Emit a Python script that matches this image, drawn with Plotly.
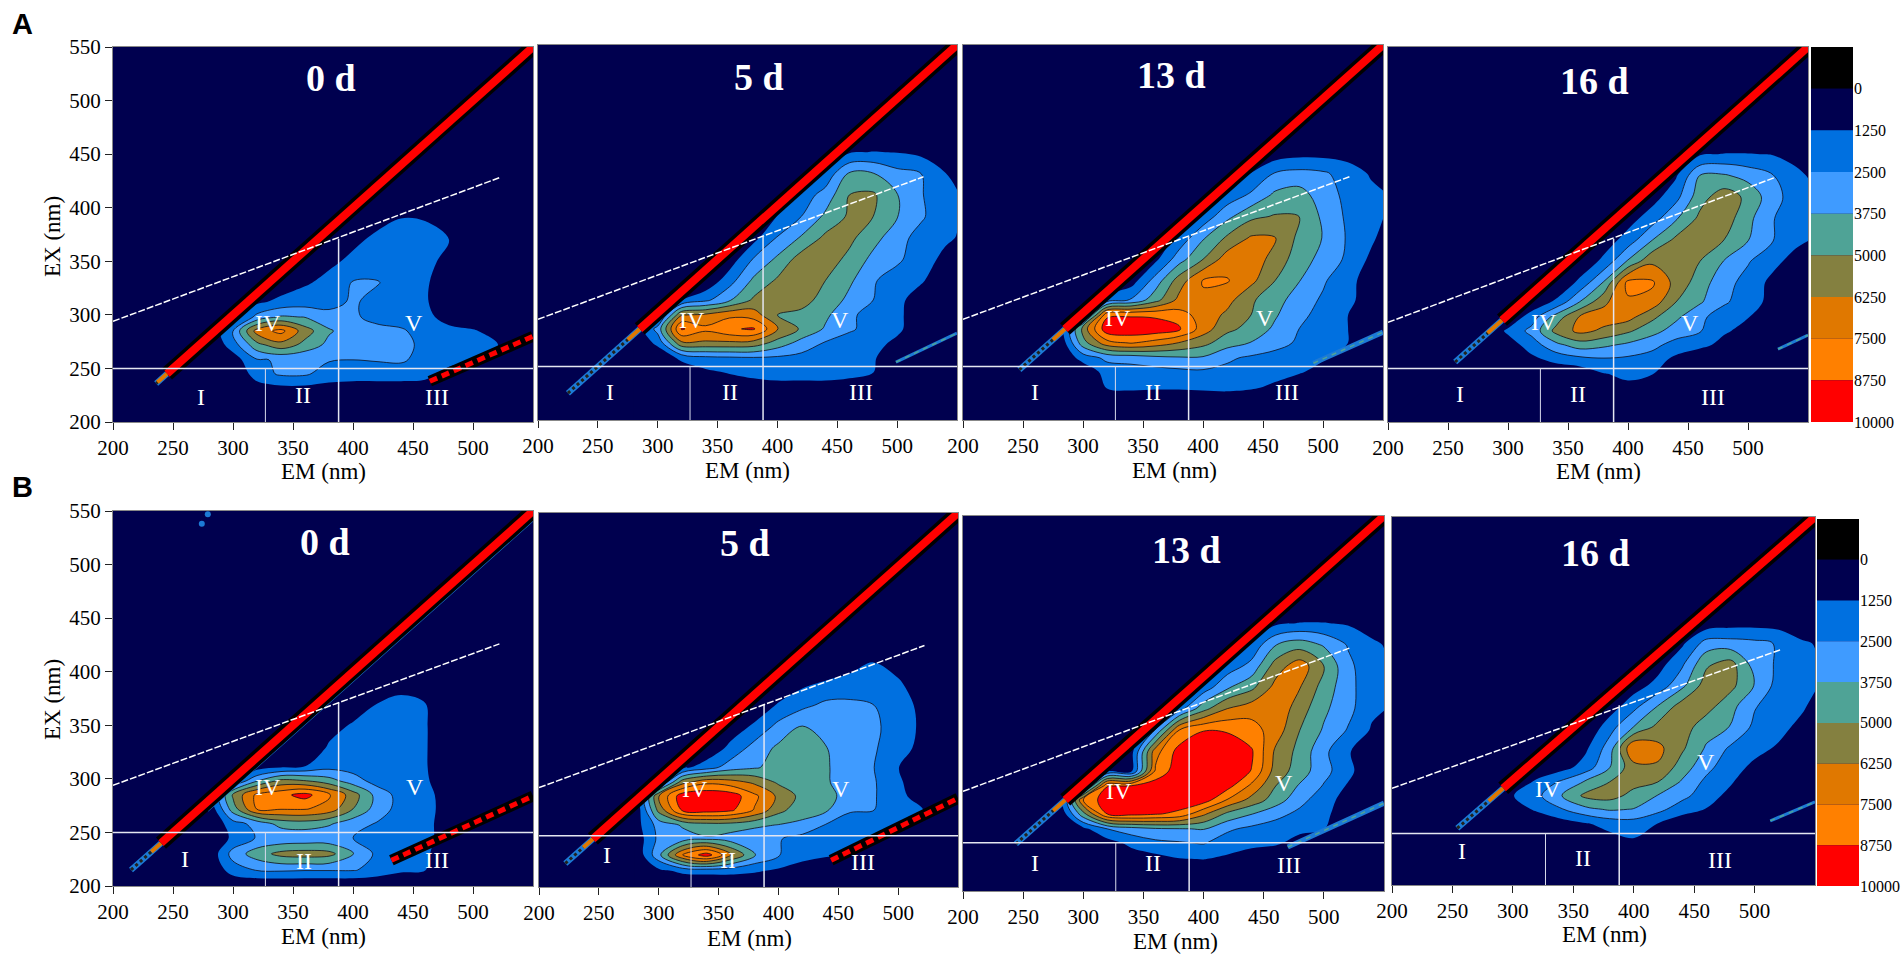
import plotly.graph_objects as go

W, H = 1904, 954

# grid of the contour maps, everything outside it is plain background
EM = [280, 300, 320, 340, 360, 380, 400, 420, 440, 460, 480, 500, 520, 540, 550]
EX = [200, 215, 230, 245, 258, 272, 285, 298, 312, 330, 350, 370, 390, 410, 430, 450, 465]
Z0 = [0] * 15

# fluorescence intensity in thousands, one row per EX value
z_a0 = [
    Z0, Z0,
    [0, 0, .5, .7, .7, .7, .6, .6, .6, .5, 0, 0, 0, 0, 0],
    [0, 0, 1.9, 2.7, 2.7, 1.9, 1.8, 1.8, 1.8, 1.7, .8, 0, 0, 0, 0],
    [0, .6, 2.4, 2.6, 2.6, 2.6, 2.5, 2.6, 2.7, 2.0, 1.7, 1.4, .3, 0, 0],
    [0, 1.9, 4.6, 5.8, 4.6, 3.4, 3.0, 3.0, 3.0, 2.1, 1.9, 1.7, 1.3, .2, 0],
    [0, 2.6, 6.8, 7.9, 5.6, 3.9, 3.1, 2.9, 2.7, 1.9, 1.5, 1.4, .7, 0, 0],
    [0, .5, 2.9, 3.9, 3.7, 3.0, 2.7, 2.1, 1.8, 1.5, .9, .2, 0, 0, 0],
    [0, 0, 1.0, 1.6, 1.9, 2.0, 2.7, 2.0, 1.7, 1.4, .4, 0, 0, 0, 0],
    [0, 0, 0, .5, 1.1, 1.6, 2.6, 2.6, 1.8, 1.4, .6, 0, 0, 0, 0],
    [0, 0, 0, 0, .2, 1.0, 1.5, 1.7, 1.7, 1.6, .9, 0, 0, 0, 0],
    [0, 0, 0, 0, 0, .3, 1.0, 1.5, 1.7, 1.6, 1.25, 0, 0, 0, 0],
    [0, 0, 0, 0, 0, 0, .2, .9, 1.25, 1.2, .3, 0, 0, 0, 0],
    Z0, Z0, Z0, Z0,
]
z_a5 = [
    Z0, Z0,
    [0, 0, 0, 0, .3, .6, .8, .8, .8, .6, .2, 0, 0, 0, 0],
    [0, 0, .3, 1.0, 1.4, 1.7, 1.8, 1.8, 1.8, 1.7, 1.3, 0, 0, 0, 0],
    [0, .2, 1.6, 2.2, 2.3, 2.4, 2.3, 2.1, 2.0, 1.8, 1.4, .3, 0, 0, 0],
    [0, 1.6, 6.0, 6.0, 6.0, 5.8, 4.5, 3.3, 2.4, 1.9, 1.8, .9, .2, 0, 0],
    [0, 3.0, 8.9, 7.8, 8.6, 8.9, 6.4, 4.8, 3.6, 2.7, 2.0, 1.6, .2, 0, 0],
    [0, .5, 6.2, 6.5, 7.2, 6.9, 5.0, 4.8, 4.0, 2.8, 1.9, 1.5, .6, 0, 0],
    [0, 0, 1.2, 2.2, 3.6, 5.2, 5.4, 5.3, 4.7, 3.4, 2.5, 1.6, .6, 0, 0],
    [0, 0, 0, .2, 2.0, 4.0, 5.2, 5.9, 5.0, 4.0, 2.6, 2.0, 1.4, .4, 0],
    [0, 0, 0, 0, .5, 2.6, 4.0, 5.6, 5.6, 4.7, 3.4, 2.7, 1.9, .9, .5],
    [0, 0, 0, 0, 0, .8, 2.6, 3.9, 5.3, 5.3, 4.2, 3.0, 2.0, 1.5, 1.2],
    [0, 0, 0, 0, 0, 0, 1.3, 2.5, 4.0, 5.2, 5.0, 3.8, 2.7, 1.6, 1.4],
    [0, 0, 0, 0, 0, 0, 0, 1.8, 3.0, 5.0, 5.2, 3.8, 2.6, 1.6, 1.4],
    [0, 0, 0, 0, 0, 0, 0, 0, 1.6, 3.9, 3.8, 2.9, 2.5, 1.3, .8],
    [0, 0, 0, 0, 0, 0, 0, 0, 0, 1.1, 1.3, 1.2, .9, .2, 0],
    Z0,
]
z_a13 = [
    Z0, Z0,
    [0, 0, 1.3, 1.5, 1.4, 1.4, 1.5, 1.6, 1.4, 1.0, .3, 0, 0, 0, 0],
    [0, .2, 1.8, 1.9, 2.0, 2.2, 2.3, 2.2, 1.9, 1.7, 1.4, .8, .1, 0, 0],
    [0, 1.8, 2.8, 3.0, 3.4, 3.6, 3.6, 2.7, 2.3, 2.0, 1.7, 1.4, .7, 0, 0],
    [0, 4.5, 7.0, 7.6, 7.0, 6.2, 5.4, 4.3, 3.7, 3.0, 2.3, 1.8, 1.3, .3, 0],
    [0, 5.5, 9.6, 9.7, 9.6, 9.0, 6.9, 5.3, 4.6, 3.5, 2.5, 1.9, 1.3, .2, 0],
    [0, .8, 8.5, 8.6, 8.5, 8.0, 7.0, 6.0, 5.0, 3.9, 2.8, 2.1, 1.3, .2, 0],
    [0, 0, 1.8, 2.6, 4.5, 6.6, 7.3, 6.7, 5.2, 4.2, 3.2, 2.3, 1.5, .8, .5],
    [0, 0, 0, .6, 3.0, 5.6, 7.6, 7.6, 6.6, 5.0, 3.8, 2.7, 1.5, .9, .5],
    [0, 0, 0, 0, .9, 3.2, 5.0, 6.9, 7.1, 5.7, 4.4, 3.3, 2.3, 1.0, .5],
    [0, 0, 0, 0, 0, 1.6, 3.6, 5.2, 6.4, 6.3, 4.7, 3.7, 2.4, 1.5, .9],
    [0, 0, 0, 0, 0, 0, 1.7, 3.4, 4.7, 5.1, 5.0, 3.5, 2.3, 1.6, 1.3],
    [0, 0, 0, 0, 0, 0, 0, 1.7, 2.7, 4.0, 4.3, 3.1, 2.2, 1.6, 1.4],
    [0, 0, 0, 0, 0, 0, 0, 0, 1.3, 2.6, 2.9, 2.7, 2.0, 1.1, .7],
    [0, 0, 0, 0, 0, 0, 0, 0, 0, .4, .7, .7, .6, 0, 0],
    Z0,
]
z_a16 = [
    Z0, Z0,
    [0, 0, 0, 0, 0, .5, .9, .6, 0, 0, 0, 0, 0, 0, 0],
    [0, 0, 0, .2, .4, 1.2, 1.5, 1.3, .6, 0, 0, 0, 0, 0, 0],
    [0, 0, .9, 1.6, 2.0, 2.3, 2.2, 1.9, .9, .2, 0, 0, 0, 0, 0],
    [0, .6, 1.9, 3.4, 4.4, 4.0, 3.5, 2.9, 2.0, 1.6, .9, .1, 0, 0, 0],
    [0, 1.5, 2.9, 5.4, 6.6, 6.0, 5.2, 4.2, 3.2, 2.6, 1.4, .9, 0, 0, 0],
    [0, .2, 1.9, 4.3, 6.4, 6.8, 6.7, 5.3, 4.0, 2.8, 1.8, 1.3, .3, 0, 0],
    [0, 0, .3, 1.5, 3.8, 6.0, 7.3, 7.0, 5.0, 3.9, 2.7, 1.8, .9, 0, 0],
    [0, 0, 0, 0, 1.6, 3.9, 7.9, 7.7, 5.8, 4.4, 2.9, 2.1, .9, 0, 0],
    [0, 0, 0, 0, .2, 1.6, 3.9, 6.0, 5.7, 5.0, 3.7, 2.6, 1.7, .7, .3],
    [0, 0, 0, 0, 0, .5, 1.8, 3.7, 5.3, 5.5, 5.0, 3.8, 2.6, 1.6, 1.3],
    [0, 0, 0, 0, 0, 0, .7, 1.9, 3.6, 5.3, 5.7, 4.1, 2.6, 1.7, 1.5],
    [0, 0, 0, 0, 0, 0, 0, .7, 2.1, 4.5, 5.7, 4.7, 3.0, 1.9, 1.6],
    [0, 0, 0, 0, 0, 0, 0, 0, 1.1, 3.8, 3.9, 3.3, 2.6, 1.5, 1.2],
    [0, 0, 0, 0, 0, 0, 0, 0, 0, 1.1, 1.3, 1.3, 1.2, .9, .4],
    Z0,
]
z_b0 = [
    Z0,
    [0, 1.9, 2.6, 2.7, 2.6, 2.6, 2.6, 2.1, 1.5, 1.3, .2, 0, 0, 0, 0],
    [.2, 3.0, 4.4, 5.4, 5.6, 5.4, 3.9, 2.2, 1.6, 1.5, .3, 0, 0, 0, 0],
    [.1, 1.5, 2.6, 2.7, 2.8, 2.8, 2.5, 1.9, 1.8, 1.7, .5, 0, 0, 0, 0],
    [0, 2.0, 2.9, 4.2, 4.4, 3.9, 3.0, 2.4, 1.9, 1.7, .5, 0, 0, 0, 0],
    [.2, 4.4, 7.6, 7.6, 7.6, 7.0, 5.0, 3.2, 2.0, 1.7, .7, 0, 0, 0, 0],
    [.6, 5.2, 7.8, 8.4, 9.2, 7.7, 5.6, 3.3, 2.0, 1.7, .6, 0, 0, 0, 0],
    [0, 1.1, 3.7, 5.4, 5.1, 4.3, 3.1, 2.0, 1.6, 1.5, .2, 0, 0, 0, 0],
    [0, 0, .4, .8, 1.2, 2.0, 1.9, 1.6, 1.5, 1.4, 0, 0, 0, 0, 0],
    [0, 0, 0, 0, 0, 1.4, 1.6, 1.7, 1.7, 1.4, 0, 0, 0, 0, 0],
    [0, 0, 0, 0, 0, .7, 1.4, 1.7, 1.7, 1.4, 0, 0, 0, 0, 0],
    [0, 0, 0, 0, 0, 0, .4, 1.25, 1.7, 1.3, 0, 0, 0, 0, 0],
    [0, 0, 0, 0, 0, 0, 0, 0, .6, .3, 0, 0, 0, 0, 0],
    Z0, Z0, Z0, Z0,
]
z_b5 = [
    Z0,
    [0, .9, 1.5, 1.6, 1.6, 1.4, 1.0, .6, .2, 0, 0, 0, 0, 0, 0],
    [0, 3.4, 7.5, 9.4, 6.5, 3.8, 2.6, 1.7, 1.4, 1.3, .2, 0, 0, 0, 0],
    [.3, 2.8, 3.2, 3.6, 3.2, 2.9, 2.6, 2.0, 1.9, 1.8, 1.6, .7, 0, 0, 0],
    [.6, 3.0, 3.9, 4.4, 4.4, 4.0, 3.7, 3.5, 2.4, 2.0, 1.7, 1.5, .1, 0, 0],
    [0, 5.4, 9.0, 9.4, 9.0, 7.4, 5.4, 4.2, 3.9, 2.6, 2.5, 1.6, 1.3, 0, 0],
    [0, 6.2, 9.6, 9.8, 9.5, 7.8, 6.0, 4.6, 4.1, 3.3, 2.6, 1.6, .7, 0, 0],
    [0, .8, 5.8, 7.2, 6.8, 6.0, 4.8, 4.3, 3.9, 3.0, 2.6, 1.5, .3, 0, 0],
    [0, 0, .9, 1.9, 3.1, 3.6, 4.2, 4.3, 3.9, 2.9, 2.5, 1.3, 0, 0, 0],
    [0, 0, 0, .2, 1.6, 3.0, 4.0, 4.4, 3.8, 2.9, 2.6, 1.9, .8, 0, 0],
    [0, 0, 0, 0, .5, 1.5, 2.9, 3.8, 3.0, 2.8, 2.7, 2.0, 1.0, 0, 0],
    [0, 0, 0, 0, 0, .3, 1.4, 2.2, 2.8, 2.8, 2.5, 1.9, .9, 0, 0],
    [0, 0, 0, 0, 0, 0, .3, 1.0, 1.5, 1.7, 1.8, 1.5, .3, 0, 0],
    [0, 0, 0, 0, 0, 0, 0, 0, 0, .8, 1.3, .6, 0, 0, 0],
    Z0, Z0, Z0,
]
z_b13 = [
    Z0, Z0,
    [0, 0, 0, .5, .8, 1.2, 1.3, 1.0, .4, 0, 0, 0, 0, 0, 0],
    [0, 0, .7, 1.6, 2.2, 2.4, 2.6, 1.9, 1.7, 1.5, .7, 0, 0, 0, 0],
    [0, .9, 2.5, 3.2, 3.6, 3.7, 3.8, 2.7, 2.2, 1.9, 1.6, 1.3, .3, 0, 0],
    [0, 4.6, 8.8, 9.2, 8.9, 8.4, 6.5, 4.7, 3.8, 2.9, 2.2, 1.6, .4, 0, 0],
    [0, 7.5, 9.6, 9.7, 9.7, 9.7, 9.4, 7.4, 5.8, 4.4, 2.9, 1.8, .7, 0, 0],
    [0, .9, 8.7, 8.9, 9.5, 9.8, 9.8, 9.2, 7.2, 5.0, 3.6, 2.4, 1.1, 0, 0],
    [0, 0, 1.3, 1.0, 7.7, 9.6, 9.9, 9.6, 8.7, 5.7, 4.4, 2.9, 1.7, 0, 0],
    [0, 0, 0, .8, 7.0, 9.3, 9.9, 9.8, 8.9, 6.0, 4.6, 2.8, 1.4, .2, 0],
    [0, 0, 0, 0, 2.6, 7.6, 8.7, 8.6, 8.0, 6.9, 5.0, 3.6, 2.4, 1.1, .7],
    [0, 0, 0, 0, 0, 2.0, 4.6, 6.3, 7.0, 7.2, 5.6, 4.0, 2.9, 1.5, 1.3],
    [0, 0, 0, 0, 0, 0, 1.8, 3.6, 4.7, 6.7, 6.3, 4.5, 2.9, 1.7, 1.5],
    [0, 0, 0, 0, 0, 0, 0, 1.8, 2.9, 5.6, 7.0, 5.0, 2.8, 1.7, 1.5],
    [0, 0, 0, 0, 0, 0, 0, 0, 1.6, 3.7, 4.4, 3.6, 2.4, 1.5, 1.2],
    [0, 0, 0, 0, 0, 0, 0, 0, 0, 1.0, 1.3, 1.3, 1.1, .6, .3],
    Z0,
]
z_b16 = [
    Z0, Z0,
    [0, 0, 0, 0, 0, .2, .6, .1, 0, 0, 0, 0, 0, 0, 0],
    [0, 0, 0, 0, 0, .9, 1.3, .8, 0, 0, 0, 0, 0, 0, 0],
    [0, 0, 0, .6, 1.1, 1.7, 1.9, 1.2, .4, 0, 0, 0, 0, 0, 0],
    [0, .5, 1.5, 2.4, 3.4, 3.9, 3.7, 2.9, 1.8, 1.2, .4, 0, 0, 0, 0],
    [0, 1.2, 2.2, 3.7, 5.3, 5.5, 4.6, 3.7, 2.9, 1.8, .9, 0, 0, 0, 0],
    [0, .3, 1.5, 2.7, 3.9, 5.0, 5.4, 5.0, 3.6, 2.2, 1.4, .3, 0, 0, 0],
    [0, 0, .3, .7, 1.8, 3.7, 5.8, 6.1, 4.4, 2.9, 1.7, 1.0, 0, 0, 0],
    [0, 0, 0, 0, 1.0, 3.1, 7.5, 6.6, 5.2, 3.6, 2.3, 1.6, 1.1, 0, 0],
    [0, 0, 0, 0, 0, 2.0, 3.8, 5.4, 5.6, 4.3, 3.7, 2.2, 1.6, .9, 0],
    [0, 0, 0, 0, 0, .5, 2.1, 3.8, 5.6, 5.5, 4.2, 2.6, 1.8, 1.4, .9],
    [0, 0, 0, 0, 0, 0, .6, 1.7, 3.4, 5.6, 5.4, 3.7, 2.0, 1.6, 1.4],
    [0, 0, 0, 0, 0, 0, 0, .7, 2.3, 4.8, 5.5, 3.2, 2.3, 1.7, 1.4],
    [0, 0, 0, 0, 0, 0, 0, 0, 1.0, 3.0, 3.0, 2.8, 2.4, 1.4, 1.2],
    [0, 0, 0, 0, 0, 0, 0, 0, 0, .3, .6, .7, .6, .3, 0],
    Z0,
]
maps = [z_a0, z_a5, z_a13, z_a16, z_b0, z_b5, z_b13, z_b16]

days = ["0 d", "5 d", "13 d", "16 d", "0 d", "5 d", "13 d", "16 d"]
day_em = [382, 385, 374, 372, 377, 372, 386, 368]
day_ex = [521, 520, 522, 518, 521, 522, 518, 516]

# area above the scatter diagonal stays empty
upper_em = [200, 550, 200]
upper_ex = [200, 550, 550]

# Rayleigh scatter diagonal and its low, speckled tail
band_end = [550, 550, 550, 550, 550, 550, 550, 550]
band_start = [245, 285, 285, 295, 240, 245, 285, 292]
tail_start = [236, 225, 247, 256, 215, 222, 244, 254]
tail_hot = [8, 10, 10, 12, 8, 8, 10, 12]

# second order scatter at the lower right
streak_em = [[464, 550], [499, 550], [492, 550], [525, 550],
             [432, 550], [444, 550], [470, 550], [513, 550]]
streak_ex = [[238, 280], [254, 281], [253, 282], [268, 281],
             [224, 284], [225, 283], [241, 282], [261, 279]]
streak_hot = [True, False, False, False, True, True, False, False]
streak_wide = [11, 3, 5, 3, 11, 11, 5, 3]

# thin line running next to the diagonal
side_em = [[440, 550], [], [497, 550], [], [279, 550], [445, 550], [], []]
side_ex = [[446, 556], [], [503, 556], [], [270, 541], [451, 556], [], []]
side_colors = ["#6b6b3a", None, "#c89a3c", None, "#1c7ad6", "#8f7a45", None, None]

# region boundaries
split_ex = [250, 250, 250, 250, 250, 248, 245, 249]
slant_em = [200, 522]
slant_ex = [[294, 428], [294, 427], [294, 427], [293, 428],
            [294, 426], [293, 426], [293, 427], [292, 424]]
split_em = [327, 388]
split_top = 371

regions = ["I", "II", "III", "IV", "V"]
region_em = [[273, 358, 470, 329, 451], [260, 360, 470, 329, 452], [260, 358, 470, 329, 452],
             [260, 358, 471, 330, 452], [260, 359, 470, 329, 452], [257, 358, 471, 330, 452],
             [260, 358, 471, 330, 467], [258, 358, 471, 329, 460]]
region_ex = [[223, 225, 223, 292, 292], [226, 226, 226, 293, 293], [226, 226, 226, 295, 295],
             [226, 226, 223, 293, 292], [225, 223, 224, 292, 292], [230, 225, 223, 292, 292],
             [226, 226, 224, 293, 301], [232, 226, 224, 291, 317]]

speck_em = [279, 274]
speck_ex = [547, 538]

scale_ticks = [0, 1250, 2500, 3750, 5000, 6250, 7500, 8750, 10000]
scale_base = [-1250, 0, 1250, 2500, 3750, 5000, 6250, 7500, 8750]
scale_step = [1250] * 9
scale_colors = ["#000000", "#00004f", "#0070e0", "#3f9bff", "#4fa396",
                "#848040", "#e07800", "#ff8000", "#ff0000"]

em_ticks = [200, 250, 300, 350, 400, 450, 500]
ex_ticks = [200, 250, 300, 350, 400, 450, 500, 550]

# left, right, top, bottom in pixels
boxes = [(113, 533, 47, 422), (538, 957, 45, 420), (963, 1383, 45, 420), (1388, 1808, 47, 422),
         (113, 533, 511, 886), (539, 958, 513, 887), (963, 1384, 516, 891), (1392, 1815, 517, 885)]
scale_boxes = [(1811, 1853, 47, 422), (1817, 1859, 519, 886)]
em_titles = [(323, 471), (747, 470), (1174, 470), (1598, 471),
             (323, 936), (749, 938), (1175, 941), (1604, 934)]
ex_titles = [(52, 237), (52, 700)]
letters = [("A", 22, 24), ("B", 22, 487)]

SERIF = "Liberation Serif"
colorscale = []
for i, c in enumerate(scale_colors[1:]):
    colorscale += [[i / 8, c], [(i + 1) / 8, c]]


def dom(box):
    l, r, t, b = box
    return [l / W, r / W], [1 - b / H, 1 - t / H]


def px_note(x, y, text, size, color="black", font=SERIF, angle=0):
    return dict(xref="paper", yref="paper", x=x / W, y=1 - y / H, text=text,
                showarrow=False, textangle=angle, xanchor="center", yanchor="middle",
                font=dict(family=font, size=size, color=color))


def line(fig, ax, x, y, color, width, dash=None):
    fig.add_trace(go.Scatter(x=x, y=y, mode="lines", line=dict(color=color, width=width, dash=dash),
                             xaxis=ax[0], yaxis=ax[1], hoverinfo="skip", showlegend=False))


fig = go.Figure()
layout = dict(
    width=W, height=H, margin=dict(l=0, r=0, t=0, b=0, autoexpand=False),
    paper_bgcolor="white", plot_bgcolor="#00004f", showlegend=False, barmode="overlay",
)
notes = []

for i, box in enumerate(boxes):
    n = i + 1
    ax = ("x" if n == 1 else f"x{n}", "y" if n == 1 else f"y{n}")
    xd, yd = dom(box)
    first = i in (0, 4)
    layout["xaxis" if n == 1 else f"xaxis{n}"] = dict(
        domain=xd, anchor=ax[1], range=[200, 550], tickvals=em_ticks, ticks="outside", ticklen=7,
        tickcolor="#222", showgrid=False, zeroline=False, showline=True, mirror=True, linecolor="#888",
        tickfont=dict(family=SERIF, size=21, color="black"),
    )
    layout["yaxis" if n == 1 else f"yaxis{n}"] = dict(
        domain=yd, anchor=ax[0], range=[200, 550], tickvals=ex_ticks if first else [],
        ticks="outside" if first else "", ticklen=7, tickcolor="#222", showgrid=False, zeroline=False,
        showline=True, mirror=True, linecolor="#888", showticklabels=first,
        tickfont=dict(family=SERIF, size=21, color="black"),
    )

    fig.add_trace(go.Contour(
        x=EM, y=EX, z=maps[i], xaxis=ax[0], yaxis=ax[1], showscale=False, hoverinfo="skip",
        colorscale=colorscale, autocontour=False,
        contours=dict(start=1.25, end=8.75, size=1.25, coloring="fill", showlines=False),
        line=dict(width=0, smoothing=1),
    ))
    fig.add_trace(go.Contour(
        x=EM, y=EX, z=maps[i], xaxis=ax[0], yaxis=ax[1], showscale=False, hoverinfo="skip",
        autocontour=False, contours=dict(start=2.5, end=8.75, size=1.25, coloring="none"),
        line=dict(width=0.8, color="#10101a", smoothing=1),
    ))
    fig.add_trace(go.Scatter(x=upper_em, y=upper_ex, mode="lines", fill="toself", fillcolor="#00004f",
                             line=dict(width=0), xaxis=ax[0], yaxis=ax[1], hoverinfo="skip", showlegend=False))

    if side_em[i]:
        line(fig, ax, side_em[i], side_ex[i], side_colors[i], 1.5)
    low, high = tail_start[i], band_start[i]
    line(fig, ax, [low, high], [low, high], "#1c7ad6", 6)
    line(fig, ax, [low, high], [low, high], "#23231c", 3, "3px,3px")
    line(fig, ax, [high, band_end[i]], [high, band_end[i]], "black", 15)
    line(fig, ax, [high, band_end[i]], [high, band_end[i]], "#ff0000", 8)
    line(fig, ax, [high - tail_hot[i], high], [high - tail_hot[i], high], "#e07800", 4)

    if streak_hot[i]:
        line(fig, ax, streak_em[i], streak_ex[i], "black", streak_wide[i])
        line(fig, ax, streak_em[i], streak_ex[i], "#ff0000", 5, "8px,5px")
    else:
        line(fig, ax, streak_em[i], streak_ex[i], "#1c7ad6", streak_wide[i])
        line(fig, ax, streak_em[i], streak_ex[i], "#4fa396", 1.5, "5px,5px")

    line(fig, ax, [200, 550], [split_ex[i], split_ex[i]], "#e4e6f2", 1.5)
    line(fig, ax, [split_em[0]] * 2, [200, split_ex[i]], "#d8dbec", 1)
    line(fig, ax, [split_em[1]] * 2, [200, split_top], "#e4e6f2", 1.5)
    line(fig, ax, slant_em, slant_ex[i], "white", 1.5, "7px,2px")

    notes.append(dict(xref=ax[0], yref=ax[1], x=day_em[i], y=day_ex[i], text=f"<b>{days[i]}</b>",
                      showarrow=False, font=dict(family=SERIF, size=38, color="white")))
    for name, xv, yv in zip(regions, region_em[i], region_ex[i]):
        notes.append(dict(xref=ax[0], yref=ax[1], x=xv, y=yv, text=name, showarrow=False,
                          font=dict(family=SERIF, size=24, color="white")))
    notes.append(px_note(*em_titles[i], "EM (nm)", 23))

fig.add_trace(go.Scatter(x=speck_em, y=speck_ex, mode="markers", xaxis="x5", yaxis="y5", hoverinfo="skip",
                         marker=dict(color="#1c7ad6", size=6), showlegend=False))

for j, box in enumerate(scale_boxes):
    n = 9 + j
    xd, yd = dom(box)
    layout[f"xaxis{n}"] = dict(domain=xd, anchor=f"y{n}", range=[-0.5, 0.5], visible=False)
    layout[f"yaxis{n}"] = dict(
        domain=yd, anchor=f"x{n}", range=[10000, -1250], side="right", tickvals=scale_ticks,
        ticktext=[str(t) for t in scale_ticks], ticks="", showgrid=False, zeroline=False, showline=False,
        tickfont=dict(family=SERIF, size=16, color="black"),
    )
    fig.add_trace(go.Bar(x=[0] * 9, y=scale_step, base=scale_base, width=1, marker=dict(color=scale_colors, line=dict(width=0)),
                         xaxis=f"x{n}", yaxis=f"y{n}", hoverinfo="skip", showlegend=False))

for x, y in ex_titles:
    notes.append(px_note(x, y, "EX (nm)", 23, angle=-90))
for name, x, y in letters:
    notes.append(px_note(x, y, f"<b>{name}</b>", 29, font="Liberation Sans"))

layout["annotations"] = notes
fig.update_layout(**layout)

fig.write_html(
    "out.html",
    config={"displayModeBar": False},
    post_script="document.body.style.margin='0';document.body.style.overflow='hidden';",
)
